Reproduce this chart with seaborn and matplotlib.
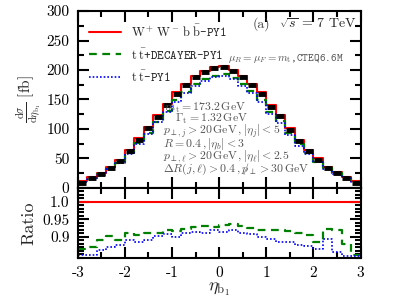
import numpy as np
import pandas as pd
import matplotlib
matplotlib.use("Agg")
import matplotlib.pyplot as plt
import seaborn as sns
from matplotlib.ticker import MultipleLocator

# bin edges of eta_b1 (0.2 wide)
edges = np.round(np.arange(-3.0, 3.01, 0.2), 2)

# W+W-bb-PY1 cross section per bin [fb]
red = [11, 18, 26, 36, 48, 64, 84, 103, 123, 142,
       162, 177, 190, 199, 205, 207, 200, 190, 177, 162,
       140, 124, 101, 81, 65, 50, 36, 27, 19, 11]
# ratios to W+W-bb-PY1
ratio_decayer = [0.865, 0.872, 0.890, 0.902, 0.892, 0.912, 0.906, 0.910, 0.912, 0.920,
                 0.917, 0.922, 0.928, 0.930, 0.928, 0.934, 0.936, 0.930, 0.926, 0.920,
                 0.918, 0.918, 0.917, 0.910, 0.906, 0.886, 0.922, 0.918, 0.880, 0.848]
ratio_tt = [0.848, 0.848, 0.862, 0.872, 0.876, 0.892, 0.886, 0.892, 0.903, 0.907,
            0.898, 0.912, 0.913, 0.912, 0.920, 0.914, 0.920, 0.912, 0.908, 0.900,
            0.895, 0.886, 0.884, 0.876, 0.874, 0.864, 0.893, 0.855, 0.845, 0.845]

red = np.array(red, float)
green = red * np.array(ratio_decayer)
blue = red * np.array(ratio_tt)

sns.set_theme(style="ticks")
plt.rcParams['font.family'] = ['cmr10', 'DejaVu Serif']
plt.rcParams['mathtext.fontset'] = 'cm'
plt.rcParams['axes.unicode_minus'] = False
plt.rcParams['axes.formatter.use_mathtext'] = True

def steps(v):
    return pd.DataFrame({"x": edges, "y": np.append(v, v[-1])})

fig = plt.figure(figsize=(4.07, 3.08), dpi=100)
ax = fig.add_axes([0.191, 0.390, 0.695, 0.574])
axr = fig.add_axes([0.191, 0.161, 0.695, 0.229], sharex=ax)

sns.lineplot(data=steps(red), x="x", y="y", ax=ax, drawstyle="steps-post", color="#ff0000", lw=1.5,
             label=r'$\mathrm{W^+\,W^-\,b\;\bar{b}}$-PY1', sort=False)
sns.lineplot(data=steps(green), x="x", y="y", ax=ax, drawstyle="steps-post", color="#008000", lw=1.6,
             dashes=(3.5, 2.5), label=r'$\mathrm{t\;\bar{t}}$+DECAYER-PY1', sort=False)
sns.lineplot(data=steps(blue), x="x", y="y", ax=ax, drawstyle="steps-post", color="#0000ff", lw=1.2,
             dashes=(1, 1.2), label=r'$\mathrm{t\;\bar{t}}$-PY1', sort=False)
centers = (edges[:-1] + edges[1:]) / 2
ax.plot(centers, red - 2, ls="none", marker="_", ms=5.5, mew=3.5, color="black")

ax.set_xlim(-3, 3)
ax.set_ylim(0, 300)
ax.set_xlabel("")
ax.set_ylabel(r'$\frac{\mathrm{d}\sigma}{\mathrm{d}\eta_{\mathrm{b}_1}}\ [\mathrm{fb}]$', fontsize=11, labelpad=2)
ax.yaxis.set_minor_locator(MultipleLocator(25))
ax.xaxis.set_major_locator(MultipleLocator(1))
ax.xaxis.set_minor_locator(MultipleLocator(0.5))
ax.set_yticks([0, 50, 100, 150, 200, 250, 300])
ax.set_yticklabels(["0", "50", "100", "150", "200", "250", "300"], fontsize=11)
ax.tick_params(axis="x", labelbottom=False)

leg = ax.legend(loc="upper left", bbox_to_anchor=(0.0, 0.995), frameon=False, handlelength=2.6,
                handletextpad=0.8, labelspacing=0.6, prop={'family': 'cmtt10', 'size': 9})

ax.text(0.62, 0.905, '(a)', transform=ax.transAxes, fontsize=10, color="#444444")
ax.text(0.71, 0.905, r'$\sqrt{s}$ = 7 TeV', transform=ax.transAxes, fontsize=10)
ax.text(0.53, 0.73, r'$\mu_R = \mu_F = m_\mathrm{t}$,CTEQ6.6M', transform=ax.transAxes,
        fontsize=7.8, family='cmtt10', color="#555555", va="center")

# physics parameters and cuts
params = [r'$\,m_\mathrm{t} = 173.2\,\mathrm{GeV}$',
          r'$\quad\,\Gamma_\mathrm{t} = 1.32\,\mathrm{GeV}$',
          r'$p_{\perp,j} > 20\,\mathrm{GeV}\,,|\eta_j| < 5$',
          r'$R = 0.4\,,|\eta_b| < 3$',
          r'$p_{\perp,\ell} > 20\,\mathrm{GeV}\,,|\eta_\ell| < 2.5$',
          r'$\Delta R(j,\ell) > 0.4\,,p\!\!\!/_\perp > 30\,\mathrm{GeV}$']
ax.text(0.30, 0.49, "\n".join(params), transform=ax.transAxes, fontsize=8.5, color="#555555",
        va="top", linespacing=0.68)

# ratio panel
axr.axhline(1.0, color="#ff0000", lw=1.5)
sns.lineplot(data=steps(ratio_decayer), x="x", y="y", ax=axr, drawstyle="steps-post", color="#008000",
             lw=1.6, dashes=(3.5, 2.5), sort=False)
sns.lineplot(data=steps(ratio_tt), x="x", y="y", ax=axr, drawstyle="steps-post", color="#0000ff",
             lw=1.2, dashes=(1, 1.2), sort=False)
axr.set_xlim(-3, 3)
axr.set_ylim(0.838, 1.04)
axr.set_yticks([0.9, 0.95, 1.0])
axr.set_yticklabels(["0.9", "0.95", "1.0"], fontsize=11)
axr.yaxis.set_minor_locator(MultipleLocator(0.01))
axr.set_xticks([-3, -2, -1, 0, 1, 2, 3])
axr.set_xticklabels(["-3", "-2", "-1", "0", "1", "2", "3"], fontsize=11)
axr.set_xlabel(r'$\eta_{\mathrm{b}_1}$', fontsize=13, labelpad=0)
axr.set_ylabel("Ratio", fontsize=13, labelpad=4)

for a in (ax, axr):
    for sp in a.spines.values():
        sp.set_linewidth(1.5)
        sp.set_color("black")
    a.tick_params(which="both", direction="in", top=True, right=True, colors="black", width=1.5)
    a.tick_params(which="major", length=8)
    a.tick_params(which="minor", length=4)
    a.tick_params(axis="both", which="major", pad=6)
    a.grid(False)

fig.savefig("out.png", dpi=100)
